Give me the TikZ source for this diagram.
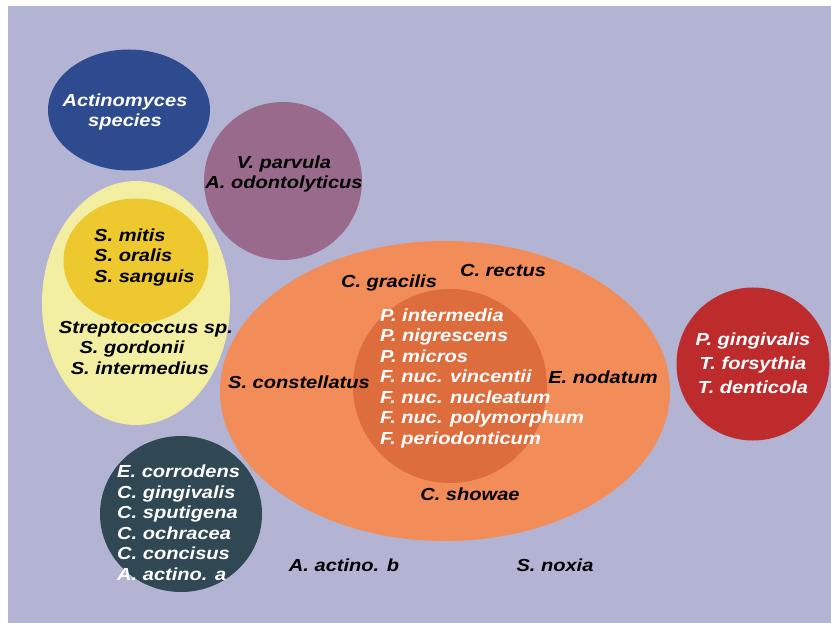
\documentclass[tikz,border=0pt]{standalone}
\usepackage{fontspec}
\usetikzlibrary{shapes.geometric}
\newfontfamily\labfam[FakeStretch=1.15]{Liberation Sans}
\newcommand\labfont{\labfam\bfseries\itshape\fontsize{14.9}{17.5}\selectfont}
\newcommand\labfontwide{\labfam\bfseries\itshape\fontsize{14.9}{20.5}\selectfont}
\definecolor{bglav}{HTML}{B3B4D4}
\definecolor{cblue}{HTML}{2D4B8E}
\definecolor{cmauve}{HTML}{9A6A8C}
\definecolor{cpale}{HTML}{F2EEA2}
\definecolor{cgold}{HTML}{EDC82E}
\definecolor{corange}{HTML}{F28C58}
\definecolor{cinner}{HTML}{DE6D3E}
\definecolor{cred}{HTML}{BE2B2C}
\definecolor{cteal}{HTML}{2F4853}
\tikzset{
  blob/.style={ellipse, draw=none, inner sep=0pt},
  lbl/.style={font=\labfont, inner sep=0pt, text=black},
  wlbl/.style={lbl, text=white},
}
\begin{document}
\begin{tikzpicture}[x=0.03cm, y=-0.03cm]
\useasboundingbox (0,0) rectangle (831,623);
\fill[white] (0,0) rectangle (831,623);
\fill[bglav] (8,6) rectangle (831,623);
% shapes
\node[blob, fill=cpale, minimum width=5.64cm, minimum height=7.32cm] (pale) at (136,303) {};
\node[blob, fill=cgold, minimum width=4.35cm, minimum height=3.75cm] (gold) at (136,261) {};
\node[blob, fill=corange, minimum width=13.5cm, minimum height=9.0cm] (orange) at (445,391) {};
\node[blob, fill=cinner, minimum width=5.82cm, minimum height=5.82cm] (inner) at (450,386) {};
\node[blob, fill=cblue, minimum width=4.86cm, minimum height=3.63cm] (blue) at (129,110) {};
\node[blob, fill=cmauve, minimum width=4.74cm, minimum height=4.74cm] (mauve) at (283,181) {};
\node[blob, fill=cred, minimum width=4.59cm, minimum height=4.59cm] (red) at (753,364) {};
\node[blob, fill=cteal, minimum width=4.86cm, minimum height=4.68cm] (teal) at (181,514) {};
% labels
\node[wlbl, align=center] (tblue) at (125,112) {Actinomyces\\species};
\node[lbl, align=center] (tmauve) at (284,174) {V. parvula\\A. odontolyticus};
\node[lbl, align=left, anchor=west] (tgold) at (94,257) {S. mitis\\S. oralis\\S. sanguis};
\node[lbl] (tstrep) at (146,329) {Streptococcus sp.};
\node[lbl] (tgord) at (132,349) {S. gordonii};
\node[lbl] (tinterm) at (140,368) {S. intermedius};
\node[lbl] (tgrac) at (389,283) {C. gracilis};
\node[lbl] (trect) at (503,270) {C. rectus};
\node[lbl] (tconst) at (299,382) {S. constellatus};
\node[lbl] (tnod) at (603,377) {E. nodatum};
\node[lbl] (tshow) at (470,494) {C. showae};
\node[wlbl, align=left, anchor=west] (tinner) at (380,378) {P. intermedia\\P. nigrescens\\P. micros\\F. nuc. vincentii\\F. nuc. nucleatum\\F. nuc. polymorphum\\F. periodonticum};
\node[wlbl, align=center, font=\labfontwide] (tred) at (753,363) {P. gingivalis\\T. forsythia\\T. denticola};
\node[wlbl, align=left, anchor=west] (tteal) at (117,523) {E. corrodens\\C. gingivalis\\C. sputigena\\C. ochracea\\C. concisus\\A. actino. a};
\node[lbl] (tab) at (344,565) {A. actino. b};
\node[lbl] (tsn) at (555,565) {S. noxia};
\end{tikzpicture}
\end{document}
